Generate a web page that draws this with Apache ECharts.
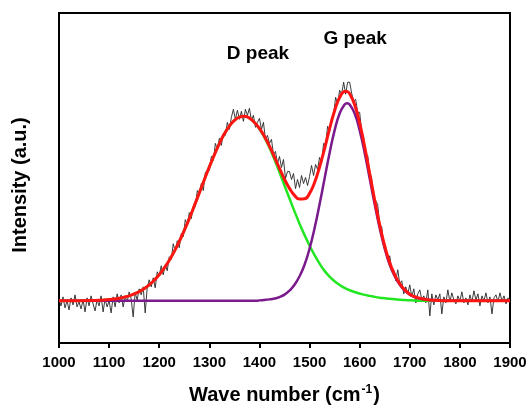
<!DOCTYPE html>
<html><head><meta charset="utf-8">
<script src="https://cdn.jsdelivr.net/npm/echarts@6/dist/echarts.min.js"></script>
<style>html,body{margin:0;padding:0;background:#fff}#c{width:530px;height:407px}</style>
</head><body><div id="c"></div>
<script>
// x positions of the fitted curves (cm^-1)
const fitX = [1000,1010,1020,1030,1040,1050,1060,1070,1080,1090,
  1100,1110,1120,1130,1140,1150,1160,1170,1180,1190,
  1200,1210,1220,1230,1240,1250,1260,1270,1280,1290,
  1300,1310,1320,1330,1340,1350,1360,1370,1380,1390,
  1400,1410,1420,1430,1440,1450,1460,1470,1480,1490,
  1500,1510,1520,1530,1540,1550,1560,1570,1575,1580,1590,
  1600,1610,1620,1630,1640,1650,1660,1670,1680,1690,
  1700,1710,1720,1730,1740,1750,1760,1770,1780,1790,
  1800,1810,1820,1830,1840,1850,1860,1870,1880,1890,1900];
// D band fit (green)
const dPeak = [0,0,0,0.1,0.1,0.2,0.3,0.4,0.6,0.9,
  1.3,1.8,2.6,3.7,5.0,6.9,9.2,12.2,15.9,20.5,
  26.1,32.7,40.4,49.3,59.2,70.2,82.1,94.7,107.7,120.8,
  133.6,145.6,156.8,166.5,174.3,179.9,183.2,184.0,182.2,177.9,
  171.4,162.9,152.7,141.0,128.3,115.0,102.0,89.2,77.0,65.7,
  55.1,45.6,37.2,29.9,24.2,19.6,15.9,12.9,11.8,10.6,8.8,
  7.3,6.0,5.0,4.0,3.2,2.6,2.0,1.5,1.1,0.8,
  0.5,0.3,0.2,0.1,0,0,0,0,0,0,
  0,0,0,0,0,0,0,0,0,0,0];
// G band fit (purple)
const gPeak = [0,0,0,0,0,0,0,0,0,0,
  0,0,0,0,0,0,0,0,0,0,
  0,0,0,0,0,0,0,0,0,0,
  0,0,0,0,0,0,0,0,0,0,
  0.5,0.9,1.5,2.4,3.8,6.2,10.2,16,24.5,36,
  52.1,72.5,96.3,122.0,147.5,170.0,186.8,195.8,197,195.8,186.8,
  170.0,147.5,122.0,96.3,72.5,52.1,36,24.5,16,10.2,
  6.2,3.8,2.4,1.5,0.9,0.5,0.3,0.15,0,0,
  0,0,0,0,0,0,0,0,0,0,0];
// cumulative fit (red)
const fitSum = [0,0,0,0.1,0.1,0.2,0.3,0.4,0.6,0.9,
  1.3,1.8,2.6,3.7,5.0,6.9,9.2,12.2,15.9,20.5,
  26.1,32.7,40.4,49.3,59.2,70.2,82.1,94.7,107.7,120.8,
  133.6,145.6,156.8,166.5,174.3,179.9,183.2,184.0,182.2,177.9,
  171.9,163.8,154.2,143.4,132.1,121.2,112.2,105.2,101.5,101.7,
  107.2,118.1,133.5,151.9,171.7,189.6,202.7,208.7,208.8,206.4,195.6,
  177.3,153.5,127.0,100.3,75.7,54.7,38.0,26.0,17.1,11.0,
  6.7,4.1,2.6,1.6,0.9,0.5,0.3,0.15,0,0,
  0,0,0,0,0,0,0,0,0,0,0];
// measured spectrum (black), sampled every 4 cm^-1 from 1000
const rawStart = 1000, rawStep = 4;
const rawIntensity = [2,-5,4,-7,0,-9,3,-4,6,-6,
  -1,-8,1,-11,3,-5,5,-3,-10,1,
  -5,5,-11,2,-6,0,-12,4,-6,7,
  -2,6,-6,4,-1,9,2,-16,8,1,
  12,6,14,-12,13,21,14,23,13,29,
  25,35,26,36,30,44,41,57,49,60,
  53,67,64,81,76,88,82,94,94,110,
  106,117,110,128,130,130,144,140,157,151,
  162,155,167,165,178,171,183,191,181,190,
  181,189,179,191,185,192,180,185,173,178,
  182,171,178,161,165,157,161,146,149,137,
  144,133,141,122,129,129,121,127,112,121,
  113,125,117,123,115,124,135,125,136,131,
  143,138,157,156,174,169,183,186,203,196,
  210,206,218,206,218,218,207,199,201,188,
  188,169,163,141,145,128,122,102,100,96,
  76,74,56,53,39,45,31,31,20,31,
  17,20,7,14,7,16,4,12,-2,7,
  11,1,5,-2,11,-15,7,-4,6,1,
  7,-13,4,-2,11,-1,8,1,-3,5,
  0,9,-2,3,-4,6,-1,10,1,7,
  -5,5,0,8,-2,4,-13,3,6,-1,
  8,0,5,-3,3,-2];
const xTicks = [1000,1100,1200,1300,1400,1500,1600,1700,1800,1900];
const peakNames = ['D peak','G peak'];

const FONT = 'Liberation Sans, Arial, sans-serif';
const pairs = (xs, ys) => xs.map((x, i) => [x, ys[i]]);
const rawData = rawIntensity.map((v, i) => [rawStart + i * rawStep, v]);

const chart = echarts.init(document.getElementById('c'), null, {renderer: 'canvas'});
chart.setOption({
  animation: false,
  backgroundColor: '#fff',
  grid: {left: 59, right: 20, top: 13, bottom: 64, show: true, borderColor: '#000', borderWidth: 2,
    containLabel: false, outerBoundsMode: 'none'},
  xAxis: {
    type: 'value', min: xTicks[0], max: xTicks[xTicks.length - 1], interval: xTicks[1] - xTicks[0],
    axisLine: {show: true, onZero: false, lineStyle: {color: '#000', width: 2}},
    axisTick: {show: true, inside: false, length: 5, lineStyle: {color: '#000', width: 2}},
    axisLabel: {color: '#000', fontWeight: 'bold', fontSize: 15, fontFamily: FONT, margin: 12,
      formatter: v => String(v)},
    splitLine: {show: false},
    name: 'Wave number (cm{sup|-1})',
    nameLocation: 'middle', nameGap: 41,
    nameTextStyle: {color: '#000', fontWeight: 'bold', fontSize: 20, fontFamily: FONT,
      rich: {sup: {fontSize: 12, fontWeight: 'bold', fontFamily: FONT, color: '#000', padding: [0, 1, 10, 1]}}}
  },
  yAxis: {
    type: 'value', min: -42, max: 287,
    axisLine: {show: true, onZero: false, lineStyle: {color: '#000', width: 2}},
    axisTick: {show: false}, axisLabel: {show: false}, splitLine: {show: false},
    name: 'Intensity (a.u.)', nameLocation: 'middle', nameGap: 29,
    nameTextStyle: {color: '#000', fontWeight: 'bold', fontSize: 20, fontFamily: FONT, padding: [0, 14, 0, 0]}
  },
  series: [
    {type: 'line', data: rawData, showSymbol: false, z: 1, lineStyle: {color: '#262626', width: 0.9}},
    {type: 'line', data: pairs(fitX, dPeak), smooth: true, showSymbol: false, z: 2, lineStyle: {color: '#22e622', width: 2.5}},
    {type: 'line', data: pairs(fitX, gPeak), smooth: true, showSymbol: false, z: 3, lineStyle: {color: '#7a1a8c', width: 2.5}},
    {type: 'line', data: pairs(fitX, fitSum), smooth: true, showSymbol: false, z: 4, lineStyle: {color: '#ff1414', width: 3}}
  ]
});
const pD = chart.convertToPixel({gridIndex: 0}, [1397, 246]);
const pG = chart.convertToPixel({gridIndex: 0}, [1591, 261]);
chart.setOption({graphic: [
  {type: 'text', x: pD[0], y: pD[1], style: {text: peakNames[0], fill: '#000', font: 'bold 19px ' + FONT, textAlign: 'center', textVerticalAlign: 'middle'}},
  {type: 'text', x: pG[0], y: pG[1], style: {text: peakNames[1], fill: '#000', font: 'bold 19px ' + FONT, textAlign: 'center', textVerticalAlign: 'middle'}}
]});
</script></body></html>
